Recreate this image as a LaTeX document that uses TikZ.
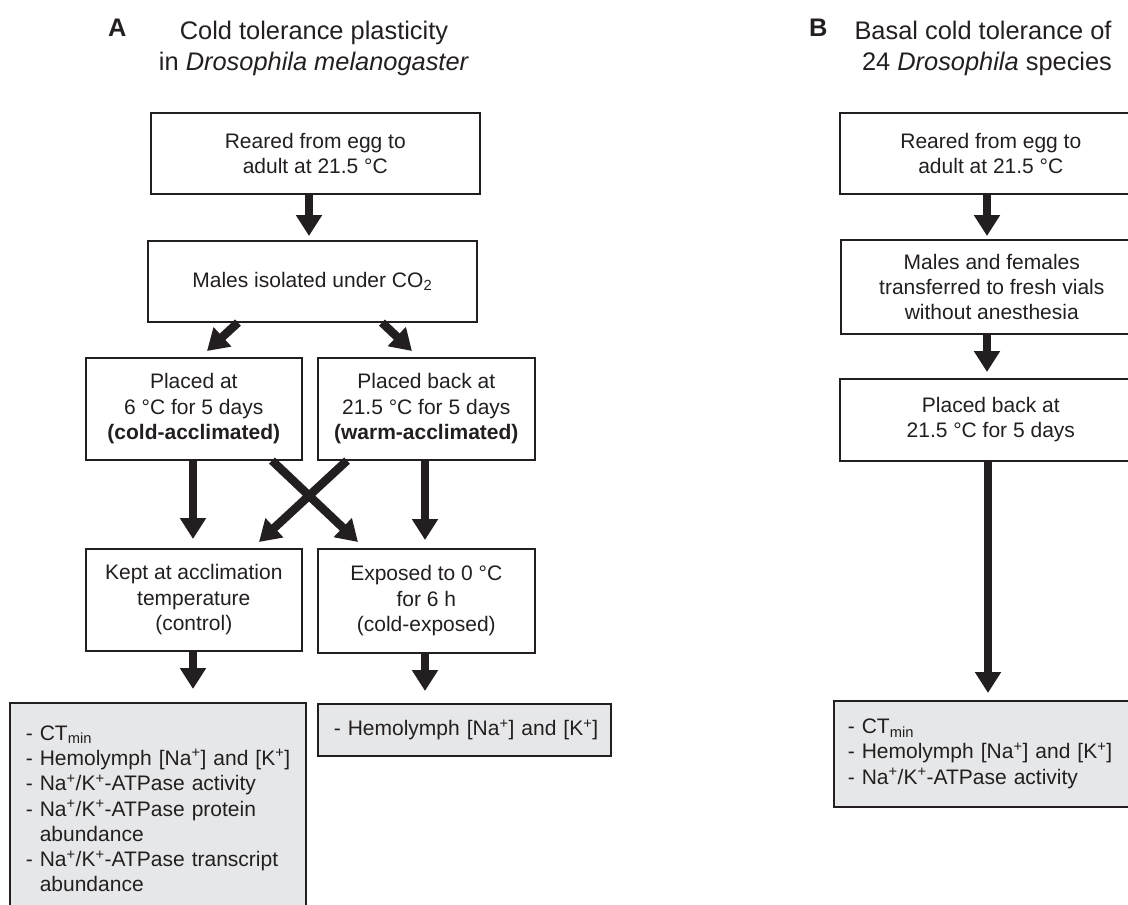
\documentclass[tikz,border=0pt]{standalone}
\usepackage{fontspec}
\setmainfont{Liberation Sans}
\usetikzlibrary{arrows.meta,calc}
\definecolor{ink}{HTML}{231F20}
\definecolor{boxgray}{HTML}{E6E7E8}
\newcommand{\nak}{Na\textsuperscript{+}/K\textsuperscript{+}}
\newcommand{\hemo}{\mbox{- Hemolymph [Na\textsuperscript{+}] and [K\textsuperscript{+}]}}
\begin{document}
\begin{tikzpicture}[x=1pt,y=-1pt,
  box/.style={draw=ink, line width=1.6pt, fill=white, align=center, inner sep=0pt,
    font=\fontsize{21}{25.3}\selectfont, text=ink, anchor=north west},
  graybox/.style={box, fill=boxgray, align=left, inner xsep=16pt},
  arr/.style={draw=ink, line width=8.5pt, -{Triangle[width=25pt,length=21pt]}},
  ttl/.style={font=\fontsize{25.4}{31}\selectfont, text=ink, anchor=base, inner sep=0pt},
  lbl/.style={font=\fontsize{25.4}{31}\selectfont\bfseries, text=ink, anchor=base west, inner sep=0pt}]
\useasboundingbox (0,0) rectangle (1128,905);
\clip (0,0) rectangle (1128,905);

% ---------- titles ----------
\node[lbl] (la) at (108,36) {A};
\node[ttl] (ta1) at (314,39) {Cold tolerance plasticity};
\node[ttl] (ta2) at (314,70) {in \textit{Drosophila melanogaster}};
\node[lbl] (lb) at (809,36) {B};
\node[ttl] (tb1) at (983,39) {Basal cold tolerance of};
\node[ttl] (tb2) at (987,70) {24 \textit{Drosophila} species};

% ---------- panel A ----------
\node[box, minimum width=329pt, minimum height=81pt] (a1) at (150,112)
  {Reared from egg to\\adult at 21.5 °C};
\node[box, minimum width=329pt, minimum height=81pt] (a2) at (147,240)
  {Males isolated under CO\textsubscript{2}};
\node[box, minimum width=216pt, minimum height=102pt] (a3) at (85,357)
  {Placed at\\6 °C for 5 days\\\textbf{(cold-acclimated)}};
\node[box, minimum width=217pt, minimum height=102pt] (a4) at (317,357)
  {Placed back at\\21.5 °C for 5 days\\\textbf{(warm-acclimated)}};
\node[box, minimum width=216pt, minimum height=102pt] (a5) at (85,548)
  {Kept at acclimation\\temperature\\(control)};
\node[box, minimum width=217pt, minimum height=104pt] (a6) at (317,548)
  {Exposed to 0 °C\\for 6 h\\(cold-exposed)};
\node[graybox, text width=264pt, minimum height=212pt] (a7) at (9,702)
  {- CT\textsubscript{min}\\
   \hemo\\
   - \nak-ATPase activity\\
   - \nak-ATPase protein\\
   \phantom{- }abundance\\
   - \nak-ATPase transcript\\
   \phantom{- }abundance};
\node[graybox, text width=261pt, minimum height=52pt] (a8) at (317,703)
  {\hemo};

% ---------- panel B ----------
\node[box, minimum width=302pt, minimum height=81pt] (b1) at (839,112)
  {Reared from egg to\\adult at 21.5 °C};
\node[box, minimum width=302pt, minimum height=94pt] (b2) at (840,239)
  {Males and females\\transferred to fresh vials\\without anesthesia};
\node[box, minimum width=302pt, minimum height=82pt] (b3) at (839,378)
  {Placed back at\\21.5 °C for 5 days};
\node[graybox, inner xsep=14pt, text width=282pt, minimum height=106pt] (b4) at (833,700)
  {- CT\textsubscript{min}\\
   \hemo\\
   - \nak-ATPase activity};

% ---------- arrows A ----------
\draw[arr] ($(a1.south west)+(159,0)$) -- ($(a2.north west)+(162,-4)$);
\draw[arr] ($(a2.south west)+(91,0)$) -- ($(a3.north west)+(122,-6)$);
\draw[arr] ($(a2.south west)+(235,0)$) -- ($(a4.north west)+(95,-6)$);
\draw[arr] ($(a3.south west)+(108,0)$) -- ($(a5.north west)+(108,-9)$);
\draw[arr] ($(a4.south west)+(108,0)$) -- ($(a6.north west)+(108,-8)$);
\draw[arr] ($(a3.south west)+(187,0)$) -- ($(a6.north west)+(41,-6)$);
\draw[arr] ($(a4.south west)+(30,0)$) -- ($(a5.north west)+(174,-6)$);
\draw[arr] ($(a5.south west)+(108,0)$) -- ($(a7.north west)+(184,-13)$);
\draw[arr] ($(a6.south west)+(108,0)$) -- ($(a8.north west)+(108,-12)$);

% ---------- arrows B ----------
\draw[arr] ($(b1.south west)+(148,0)$) -- ($(b2.north west)+(147,-3)$);
\draw[arr] ($(b2.south west)+(147,0)$) -- ($(b3.north west)+(148,-6)$);
\draw[arr] ($(b3.south west)+(149,0)$) -- ($(b4.north west)+(155,-7)$);
\end{tikzpicture}
\end{document}
